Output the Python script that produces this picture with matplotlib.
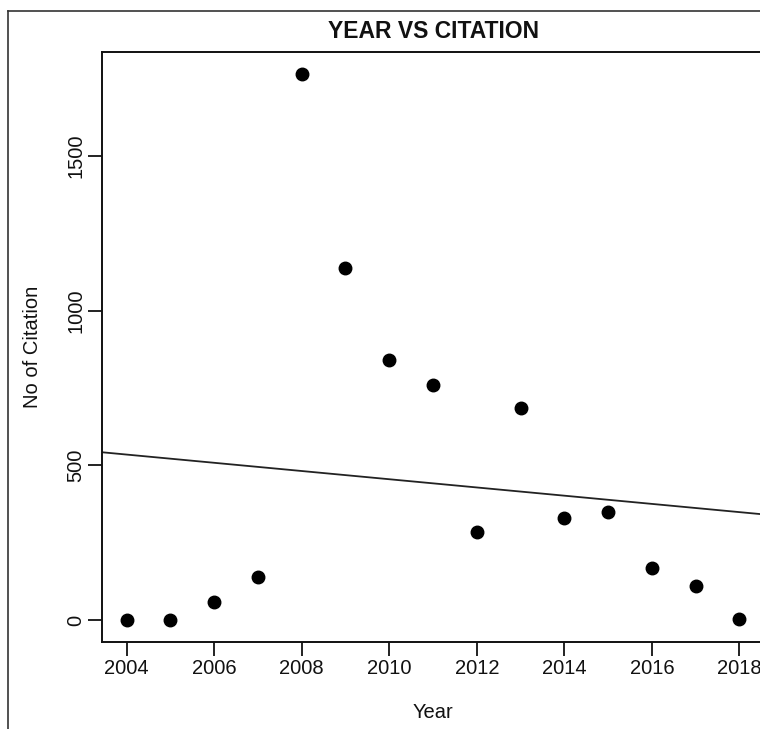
#!/usr/bin/env python3
"""
Year vs citation scatter with a least-squares line (R base-graphics look)
"""

import numpy as np
import matplotlib
matplotlib.use("Agg")
import matplotlib.pyplot as plt
from matplotlib.lines import Line2D

years = [2004, 2005, 2006, 2007, 2008, 2009, 2010, 2011,
         2012, 2013, 2014, 2015, 2016, 2017, 2018]
citations = [0, 0, 60, 140, 1765, 1139, 839, 761,
             284, 684, 329, 348, 168, 110, 3]
x_ticks = [2004, 2006, 2008, 2010, 2012, 2014, 2016, 2018]
y_ticks = [0, 500, 1000, 1500]


def r_range(vals):
    # R pads the data range by 4% on each side
    lo, hi = min(vals), max(vals)
    pad = (hi - lo) * 0.04
    return lo - pad, hi + pad


def main():
    plt.rcParams['font.family'] = ['Liberation Sans', 'DejaVu Sans']
    W, H = 760, 729
    fig = plt.figure(figsize=(W / 100, H / 100), dpi=100)

    # plot box: left 102px, top 52px, bottom 642px; right edge runs off the image
    ax = fig.add_axes([102 / W, (H - 642) / H, (764 - 102) / W, 590 / H])

    ax.plot(years, citations, 'o', color='black', markersize=9)

    slope, intercept = np.polyfit(years, citations, 1)
    ax.axline((years[0], intercept + slope * years[0]), slope=slope,
              color='#222222', linewidth=1.3)

    ax.set_xlim(*r_range(years))
    ax.set_ylim(*r_range(citations))
    ax.set_xticks(x_ticks)
    ax.set_yticks(y_ticks)
    ax.tick_params(axis='both', length=10, width=1.3, labelsize=14.5,
                   color='#111111', labelcolor='#111111')
    ax.tick_params(axis='x', pad=2)
    ax.tick_params(axis='y', pad=2, labelrotation=90)
    for lab in ax.get_yticklabels():
        lab.set_va('center')

    for s in ax.spines.values():
        s.set_linewidth(1.4)
        s.set_color('#111111')

    ax.set_title('YEAR VS CITATION', fontsize=16.5, fontweight='bold',
                 y=1 + 20 / 590, pad=0, va='center', color='#111111')
    ax.set_xlabel('Year', fontsize=14.5, color='#111111')
    ax.xaxis.label.set_va('center')
    ax.xaxis.set_label_coords(0.5, (642 - 712) / 590)
    ax.set_ylabel('No of Citation', fontsize=14.5, color='#111111')
    ax.yaxis.label.set_va('center')
    ax.yaxis.set_label_coords((33 - 102) / 662, 0.5)

    # outer device border (only left and top edges fall inside the crop)
    fx, fy = 8 / W, 1 - 11 / H
    fig.add_artist(Line2D([fx, fx], [0, fy], transform=fig.transFigure,
                          color='#333333', linewidth=1.2))
    fig.add_artist(Line2D([fx, 1], [fy, fy], transform=fig.transFigure,
                          color='#333333', linewidth=1.2))

    fig.savefig('out.png', dpi=100)


if __name__ == "__main__":
    main()
